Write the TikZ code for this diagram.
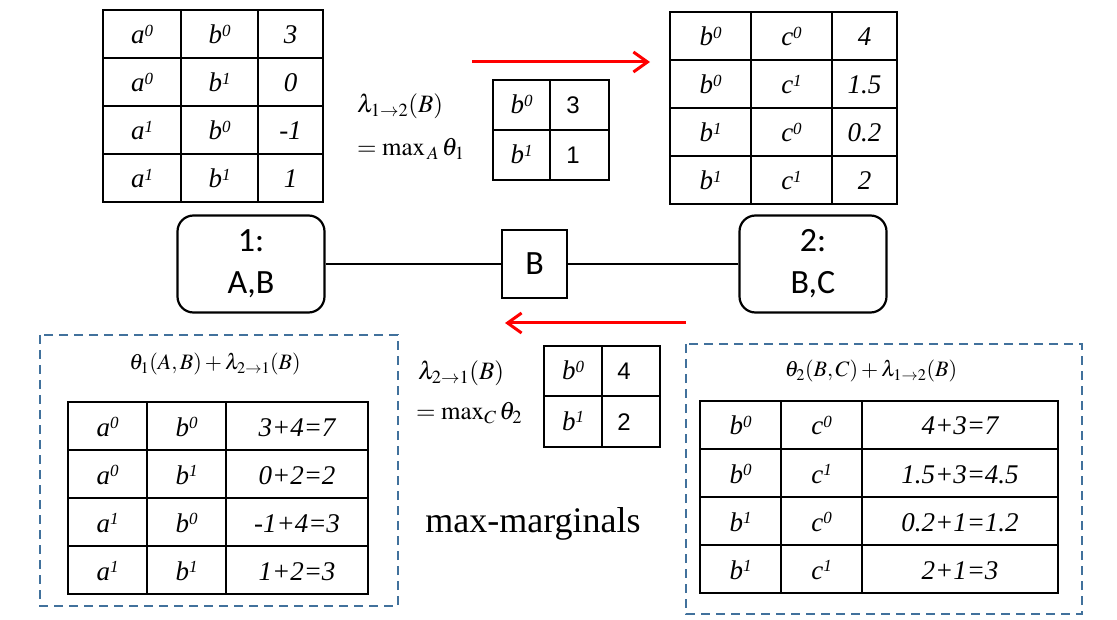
\documentclass[tikz,border=0pt]{standalone}
\usepackage{mathptmx}
\usepackage{fontspec}
\setmainfont{Liberation Serif}
\newfontfamily\sansnoeud{Carlito}
\newfontfamily\sanschiffre{Liberation Sans}
\usetikzlibrary{arrows.meta}
\definecolor{bleupointille}{RGB}{65,113,156}
\newcommand{\val}[2]{\textit{#1\raisebox{0.28em}{\fontsize{17}{17}\selectfont #2}}}

\begin{document}
\begin{tikzpicture}[x=1pt, y=-1pt,
    trait/.style={line width=2.2pt},
    cellule/.style={anchor=base, inner sep=0pt, font=\fontsize{27}{32}\selectfont\itshape},
    chiffre/.style={anchor=base, inner sep=0pt, font=\fontsize{24}{28}\selectfont\sanschiffre},
    formule/.style={anchor=base west, inner sep=0pt, font=\fontsize{25}{30}\selectfont},
    titre/.style={anchor=base, inner sep=0pt, font=\fontsize{22}{26}\selectfont},
    clique/.style={draw, line width=2.2pt, rounded corners=16pt, minimum width=147pt,
        minimum height=97pt, align=center, font=\fontsize{34}{42}\selectfont\sansnoeud},
    sepset/.style={draw, line width=2.2pt, minimum width=65pt, minimum height=68pt,
        font=\fontsize{34}{42}\selectfont\sansnoeud},
    lien/.style={line width=2.5pt},
    message/.style={red, line width=3pt, -{Straight Barb[length=14pt,width=20pt]}},
    cadre/.style={bleupointille, line width=2.5pt, dash pattern=on 9pt off 6pt}
]
    \useasboundingbox (0,0) rectangle (1117,620);

    % ---- Facteur theta_1(A,B) ----
    \draw[trait] (103,10) rectangle (323,202);
    \foreach \x in {181,258} \draw[trait] (\x,10) -- (\x,202);
    \foreach \y in {58,106,154} \draw[trait] (103,\y) -- (323,\y);
    \foreach \r/\a/\b/\v in {0/0/0/3, 1/0/1/0, 2/1/0/-1, 3/1/1/1}{
        \node[cellule] (tA\r) at (142,44+48*\r) {\val{a}{\a}};
        \node[cellule] (tB\r) at (219.5,44+48*\r) {\val{b}{\b}};
        \node[cellule] (tV\r) at (290.5,44+48*\r) {\v};
    }

    % ---- Facteur theta_2(B,C) ----
    \draw[trait] (670,12) rectangle (897,204);
    \foreach \x in {751,832} \draw[trait] (\x,12) -- (\x,204);
    \foreach \y in {60,108,156} \draw[trait] (670,\y) -- (897,\y);
    \foreach \r/\b/\c/\v in {0/0/0/4, 1/0/1/1.5, 2/1/0/0.2, 3/1/1/2}{
        \node[cellule] (uB\r) at (710.5,46+48*\r) {\val{b}{\b}};
        \node[cellule] (uC\r) at (791.5,46+48*\r) {\val{c}{\c}};
        \node[cellule] (uV\r) at (864.5,46+48*\r) {\v};
    }

    % ---- Message 1 -> 2 ----
    \coordinate (m12a) at (472,62);
    \coordinate (m12b) at (650,62);
    \draw[message] (m12a) -- (m12b);
    \node[formule] (lam12) at (357,113) {$\lambda_{1\to2}(B)$};
    \node[formule] (max12) at (357,156) {$=\max\nolimits_{\,A}\theta_1$};
    \draw[trait] (493,80) rectangle (609,180);
    \draw[trait] (550,80) -- (550,180);
    \draw[trait] (493,130) -- (609,130);
    \foreach \r/\b/\v in {0/0/3, 1/1/1}{
        \node[cellule] (pB\r) at (521.5,114+50*\r) {\val{b}{\b}};
        \node[chiffre] (pV\r) at (573,114+50*\r) {\v};
    }

    % ---- Arbre de cliques ----
    \node[clique] (c1) at (251,264) {1:\\A,B};
    \node[sepset] (sep) at (534.5,264) {B};
    \node[clique] (c2) at (813,264) {2:\\B,C};
    \draw[lien] (c1) -- (sep);
    \draw[lien] (sep) -- (c2);

    % ---- Message 2 -> 1 ----
    \coordinate (m21a) at (686,323);
    \coordinate (m21b) at (505,323);
    \draw[message] (m21a) -- (m21b);
    \node[formule] (lam21) at (418,380) {$\lambda_{2\to1}(B)$};
    \node[formule] (max21) at (416,420) {$=\max\nolimits_C\theta_2$};
    \draw[trait] (544,346) rectangle (660,447);
    \draw[trait] (602,346) -- (602,447);
    \draw[trait] (544,396) -- (660,396);
    \foreach \r/\b/\v in {0/0/4, 1/1/2}{
        \node[cellule] (qB\r) at (573,380+50*\r) {\val{b}{\b}};
        \node[chiffre] (qV\r) at (624,380+50*\r) {\v};
    }

    % ---- Max-marginales de la clique 1 ----
    \draw[cadre] (40,335) rectangle (398,606);
    \node[titre] (tit1) at (215,370) {$\theta_1(A,B)+\lambda_{2\to1}(B)$};
    \draw[trait] (68,402) rectangle (368,594);
    \foreach \x in {147,226} \draw[trait] (\x,402) -- (\x,594);
    \foreach \y in {450,498,546} \draw[trait] (68,\y) -- (368,\y);
    \foreach \r/\a/\b/\v in {0/0/0/3+4=7, 1/0/1/0+2=2, 2/1/0/-1+4=3, 3/1/1/1+2=3}{
        \node[cellule] (mA\r) at (107.5,436+48*\r) {\val{a}{\a}};
        \node[cellule] (mB\r) at (186.5,436+48*\r) {\val{b}{\b}};
        \node[cellule] (mV\r) at (297,436+48*\r) {\v};
    }

    \node[anchor=base, inner sep=0pt, font=\fontsize{36}{42}\selectfont] (maxmarg) at (533,532) {max-marginals};

    % ---- Max-marginales de la clique 2 ----
    \draw[cadre] (686,344) rectangle (1082,614);
    \node[titre] (tit2) at (871,377) {$\theta_2(B,C)+\lambda_{1\to2}(B)$};
    \draw[trait] (700,401) rectangle (1058,593);
    \foreach \x in {781,862} \draw[trait] (\x,401) -- (\x,593);
    \foreach \y in {449,497,545} \draw[trait] (700,\y) -- (1058,\y);
    \foreach \r/\b/\c/\v in {0/0/0/4+3=7, 1/0/1/1.5+3=4.5, 2/1/0/0.2+1=1.2, 3/1/1/2+1=3}{
        \node[cellule] (nB\r) at (740.5,435+48*\r) {\val{b}{\b}};
        \node[cellule] (nC\r) at (821.5,435+48*\r) {\val{c}{\c}};
        \node[cellule] (nV\r) at (960,435+48*\r) {\v};
    }

\end{tikzpicture}
\end{document}
